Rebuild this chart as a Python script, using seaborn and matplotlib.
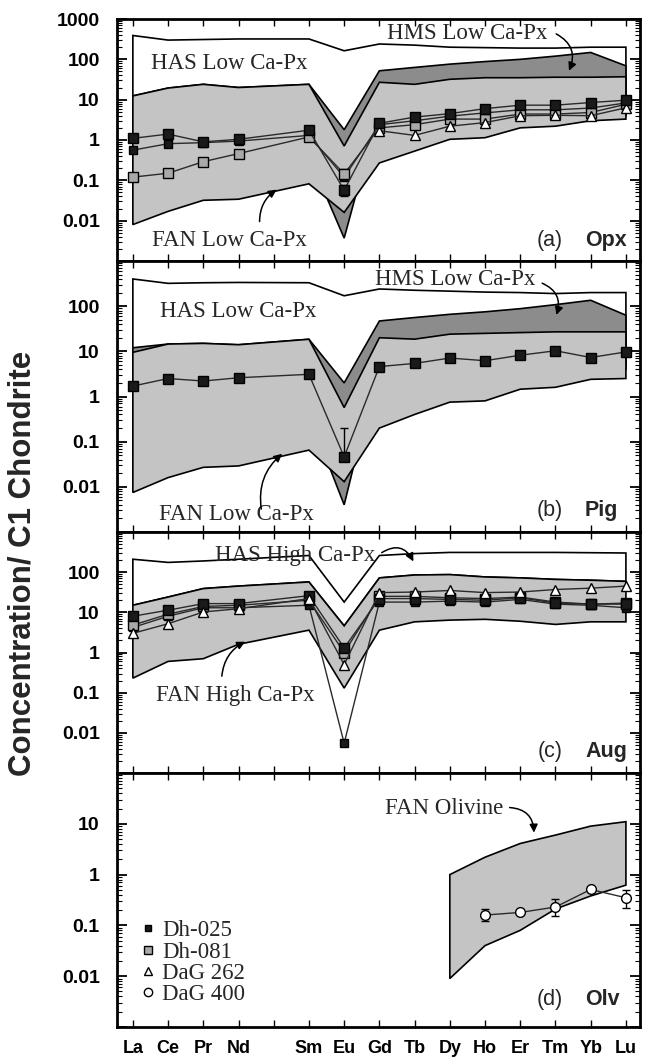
import numpy as np
import pandas as pd
import matplotlib
matplotlib.use("Agg")
import matplotlib.pyplot as plt
import seaborn as sns
from matplotlib.ticker import FixedLocator, LogLocator, NullFormatter, FixedFormatter
from matplotlib.lines import Line2D

nan = np.nan
tick_labels = ["La", "Ce", "Pr", "Nd", "", "Sm", "Eu", "Gd", "Tb", "Dy", "Ho", "Er", "Tm", "Yb", "Lu"]
elements = [t for t in tick_labels if t]

# ---------------- (a) Opx ----------------
opx_has_top = [390, 300, 310, 320, 320, 163, 240, 225, 200, 195, 190, 190, 200, 200]
opx_has_bot = [0.055, 0.1, 0.15, 0.2, 0.3, 0.1, 1.0, 1.5, 2.0, 2.0, 3.0, 3.0, 4.0, 4.0]
opx_hms_top = [12.4, 19.4, 24, 20, 24, 1.8, 52, 63, 76, 88, 100, 120, 148, 69]
opx_hms_bot = [0.05, 0.1, 0.2, 0.2, 0.4, 0.0037, 6, 3, 3, 3, 4, 4, 5, 5]
opx_fan_top = [12.4, 19.4, 24, 20, 24, 0.71, 27, 24, 32, 35, 35, 36, 36, 37]
opx_fan_bot = [0.008, 0.017, 0.032, 0.034, 0.082, 0.016, 0.27, 0.53, 1.04, 1.14, 2.0, 2.2, 3.0, 3.3]
opx_dh025_1 = [1.1, 1.4, 0.9, 1.04, 1.75, 0.057, 2.6, 3.7, 4.5, 6.0, 7.3, 7.3, 8.5, 9.7]
opx_dh025_2 = [0.56, 0.81, 0.86, 0.94, 1.3, 0.12, 2.4, 3.0, 3.9, 4.7, 5.6, 5.6, 6.2, 8.3]
opx_dh081 = [0.12, 0.15, 0.29, 0.46, 1.19, 0.145, 2.0, 2.4, 3.3, 3.3, 4.4, 4.4, 4.8, 7.7]
opx_dag262 = [nan, nan, nan, nan, nan, nan, 1.7, 1.3, 2.2, 2.7, 4.0, 4.1, 4.0, 6.3]

# ---------------- (b) Pig ----------------
pig_has_top = [400, 320, 330, 335, 330, 170, 240, 225, 215, 205, 200, 190, 200, 200]
pig_has_bot = [0.063, 0.1, 0.15, 0.2, 0.3, 0.1, 1.0, 1.5, 2.0, 2.0, 3.0, 3.0, 4.0, 4.0]
pig_hms_top = [12, 14.5, 15, 14, 18.5, 2.0, 47, 56, 66, 75, 88, 108, 135, 63]
pig_hms_bot = [0.05, 0.1, 0.2, 0.2, 0.4, 0.004, 6, 3, 3, 3, 4, 4, 5, 5]
pig_fan_top = [9.5, 14.5, 15, 14, 18.5, 0.57, 20, 18.6, 24, 25, 26, 27, 27, 27]
pig_fan_bot = [0.0075, 0.016, 0.027, 0.029, 0.065, 0.013, 0.2, 0.4, 0.75, 0.8, 1.45, 1.6, 2.4, 2.5]
pig_dh025 = [1.7, 2.5, 2.2, 2.6, 3.1, 0.046, 4.6, 5.4, 7.1, 6.2, 8.2, 10.3, 7.3, 9.7]

# ---------------- (c) Aug ----------------
aug_has_top = [210, 175, 190, 210, 260, 18, 260, 290, 310, 310, 310, 310, 305, 300]
aug_fan_top = [15, 24, 39, 45, 57, 4.6, 72, 85, 87, 76, 72, 66, 63, 59]
aug_fan_bot = [0.23, 0.6, 0.7, 1.6, 3.6, 0.13, 3.6, 5.8, 6.4, 6.7, 6.0, 5.0, 5.8, 5.8]
aug_dh025_1 = [8.0, 11.3, 16.5, 16.5, 26, 1.3, 22, 22, 21, 20, 23, 17, 16, 16]
aug_dh025_2 = [4.2, 8.0, 13, 13, 15, 0.0055, 18, 18, 19, 18, 21, 16, 15, 13]
aug_dh081 = [4.8, 9.0, 14, 15, 20, 1.0, 25, 25, 23, 22, 24, 18, 16, 17]
aug_dag262 = [3.0, 5.2, 10.2, 12.3, 22, 0.5, 31, 32, 35, 31, 32, 37, 40, 45]

# ---------------- (d) Olv ----------------
olv_fan_top = [nan, nan, nan, nan, nan, nan, nan, nan, 1.0, 2.2, 4.1, 6.0, 9.0, 11]
olv_fan_bot = [nan, nan, nan, nan, nan, nan, nan, nan, 0.009, 0.04, 0.08, 0.21, 0.38, 0.62]
olv_dag400 = [nan, nan, nan, nan, nan, nan, nan, nan, nan, 0.16, 0.18, 0.23, 0.51, 0.35]
olv_dag400_lo = [nan, nan, nan, nan, nan, nan, nan, nan, nan, 0.12, 0.165, 0.15, 0.45, 0.22]
olv_dag400_hi = [nan, nan, nan, nan, nan, nan, nan, nan, nan, 0.21, 0.2, 0.33, 0.58, 0.5]

legend_labels = ["Dh-025", "Dh-081", "DaG 262", "DaG 400"]

# ---------------- styling ----------------
sns.set_theme(style="ticks")
plt.rcParams["font.family"] = ["Liberation Sans", "DejaVu Sans"]
SERIF = ["Liberation Serif", "DejaVu Serif"]
LIGHT = "#c4c4c4"
DARK = "#8c8c8c"
MGREY = "#a9a9a9"

xpos = np.array([tick_labels.index(e) for e in elements], dtype=float)

fig = plt.figure(figsize=(6.55, 10.58), dpi=100)
gs = fig.add_gridspec(4, 1, left=117 / 655, right=640 / 655, top=1 - 19 / 1058,
                      bottom=1 - 1027 / 1058, hspace=0, height_ratios=[242, 271, 241, 254])
axes = [fig.add_subplot(gs[i]) for i in range(4)]


def band(ax, top, bot, face, z):
    top = np.asarray(top, float)
    bot = np.asarray(bot, float)
    m = ~np.isnan(top)
    x = xpos[m]
    ax.fill(np.r_[x, x[::-1]], np.r_[top[m], bot[m][::-1]], facecolor=face,
            edgecolor="black", linewidth=1.2, zorder=z, joinstyle="miter")


def series(ax, vals, marker, face, ms=6.5, z=6):
    df = pd.DataFrame({"x": xpos, "y": vals}).dropna()
    sns.lineplot(data=df, x="x", y="y", ax=ax, color="#2a2a2a", linewidth=1.0,
                 marker=marker, markersize=ms, markerfacecolor=face,
                 markeredgecolor="black", markeredgewidth=1.0, zorder=z,
                 errorbar=None, sort=False, legend=False)


def ebar(ax, elem, y, lo, hi):
    x = xpos[elements.index(elem)]
    ax.errorbar([x], [y], yerr=[[y - lo], [hi - y]], fmt="none", ecolor="black",
                elinewidth=1.0, capsize=3, capthick=1.0, zorder=5)


def fmt(e):
    return {-2: "0.01", -1: "0.1", 0: "1", 1: "10", 2: "100", 3: "1000"}.get(e, "")


def setup(ax, lo, hi, shown, last=False):
    ax.set_yscale("log")
    ax.set_ylim(10.0 ** lo, 10.0 ** hi)
    ax.set_xlim(-0.45, 14.4)
    exps = list(range(lo, hi + 1))
    ax.yaxis.set_major_locator(FixedLocator([10.0 ** e for e in exps]))
    ax.yaxis.set_major_formatter(FixedFormatter([fmt(e) if e in shown else "" for e in exps]))
    ax.yaxis.set_minor_locator(LogLocator(base=10, subs=np.arange(2, 10) * 1.0, numticks=100))
    ax.yaxis.set_minor_formatter(NullFormatter())
    ax.set_xticks(range(len(tick_labels)))
    ax.set_xticklabels(tick_labels if last else [""] * len(tick_labels))
    ax.tick_params(which="both", direction="in", top=True, right=True, colors="black")
    ax.tick_params(axis="y", which="major", length=7, width=1.3, labelsize=14, pad=12.5)
    ax.tick_params(axis="y", which="minor", length=3.5, width=0.8)
    ax.tick_params(axis="x", which="major", length=5, width=1.0, labelsize=13, pad=9)
    for lab in ax.get_yticklabels() + ax.get_xticklabels():
        lab.set_fontweight("bold")
    for s in ax.spines.values():
        s.set_linewidth(2.0)
        s.set_color("black")
        s.set_zorder(10)
    ax.set_xlabel("")
    ax.set_ylabel("")


def note(ax, text, x, y):
    ax.text(x, y, text, family=SERIF, fontsize=16.5, ha="center", va="center", zorder=8)


def arrow(ax, x0, y0, x1, y1, rad):
    ax.annotate("", xy=(x1, y1), xytext=(x0, y0), zorder=8,
                arrowprops=dict(arrowstyle="-|>", color="black", lw=1.1,
                                mutation_scale=12,
                                connectionstyle=f"arc3,rad={rad}"))


def panel_label(ax, letter, name, y):
    ax.text(0.852, y, f"({letter})", transform=ax.transAxes, fontsize=15.5,
            ha="right", va="center", zorder=8)
    ax.text(0.895, y, name, transform=ax.transAxes, fontsize=15.5, fontweight="bold",
            ha="left", va="center", zorder=8)


# ---- (a) ----
ax = axes[0]
band(ax, opx_has_top, opx_has_bot, "white", 1)
band(ax, opx_hms_top, opx_hms_bot, DARK, 2)
band(ax, opx_fan_top, opx_fan_bot, LIGHT, 3)
series(ax, opx_dh025_2, "s", "#1a1a1a", 5.5)
series(ax, opx_dh081, "s", MGREY)
series(ax, opx_dag262, "^", "white")
series(ax, opx_dh025_1, "s", "#1a1a1a")
ebar(ax, "Eu", 0.057, 0.04, 0.078)
ebar(ax, "Eu", 0.145, 0.11, 0.19)
ebar(ax, "Sm", 1.19, 0.95, 1.45)
note(ax, "HAS Low Ca-Px", 2.75, 78)
note(ax, "HMS Low Ca-Px", 9.5, 440)
note(ax, "FAN Low Ca-Px", 2.75, 0.0032)
arrow(ax, 11.95, 460, 12.35, 45, -0.5)
arrow(ax, 3.6, 0.0081, 4.15, 0.064, -0.3)
panel_label(ax, "a", "Opx", 0.085)
setup(ax, -3, 3, [-2, -1, 0, 1, 2, 3])

# ---- (b) ----
ax = axes[1]
band(ax, pig_has_top, pig_has_bot, "white", 1)
band(ax, pig_hms_top, pig_hms_bot, DARK, 2)
band(ax, pig_fan_top, pig_fan_bot, LIGHT, 3)
series(ax, pig_dh025, "s", "#1a1a1a")
ebar(ax, "Eu", 0.046, 0.04, 0.2)
note(ax, "HAS Low Ca-Px", 3.0, 75)
note(ax, "HMS Low Ca-Px", 9.15, 395)
note(ax, "FAN Low Ca-Px", 2.93, 0.0025)
arrow(ax, 11.55, 340, 12.0, 56, -0.5)
arrow(ax, 3.66, 0.0028, 4.3, 0.059, -0.3)
panel_label(ax, "b", "Pig", 0.08)
setup(ax, -3, 3, [-2, -1, 0, 1, 2])

# ---- (c) ----
ax = axes[2]
band(ax, aug_has_top, aug_fan_top, "white", 1)
band(ax, aug_fan_top, aug_fan_bot, LIGHT, 3)
series(ax, aug_dh025_2, "s", "#1a1a1a", 5.5)
series(ax, aug_dh081, "s", MGREY)
series(ax, aug_dh025_1, "s", "#1a1a1a")
series(ax, aug_dag262, "^", "white")
note(ax, "HAS High Ca-Px", 4.62, 265)
note(ax, "FAN High Ca-Px", 2.92, 0.085)
arrow(ax, 7.0, 280, 8.0, 160, -0.6)
arrow(ax, 2.52, 0.22, 3.26, 2.0, -0.3)
panel_label(ax, "c", "Aug", 0.088)
setup(ax, -3, 3, [-2, -1, 0, 1, 2])

# ---- (d) ----
ax = axes[3]
band(ax, olv_fan_top, olv_fan_bot, LIGHT, 3)
series(ax, olv_dag400, "o", "white", 7)
for e, v, lo, hi in zip(elements, olv_dag400, olv_dag400_lo, olv_dag400_hi):
    if not np.isnan(v):
        ebar(ax, e, v, lo, hi)
note(ax, "FAN Olivine", 8.85, 20)
arrow(ax, 10.62, 21, 11.39, 5.9, -0.5)
panel_label(ax, "d", "Olv", 0.11)
handles = [
    Line2D([], [], ls="none", marker="s", ms=5, mfc="#1a1a1a", mec="black"),
    Line2D([], [], ls="none", marker="s", ms=6, mfc=MGREY, mec="black"),
    Line2D([], [], ls="none", marker="^", ms=6, mfc="white", mec="black"),
    Line2D([], [], ls="none", marker="o", ms=6, mfc="white", mec="black"),
]
ax.legend(handles, legend_labels, loc="lower left", bbox_to_anchor=(0.012, 0.025),
          frameon=False, prop={"family": SERIF, "size": 16.5}, handlelength=0.8,
          handletextpad=0.2, labelspacing=0.0, borderaxespad=0.3)
setup(ax, -3, 2, [-2, -1, 0, 1], last=True)

fig.text(0.035, 1 - 563 / 1058, "Concentration/ C1 Chondrite", rotation=90,
         fontsize=22.5, fontweight="bold", ha="center", va="center")

fig.savefig("out.png", dpi=100, facecolor="white")
